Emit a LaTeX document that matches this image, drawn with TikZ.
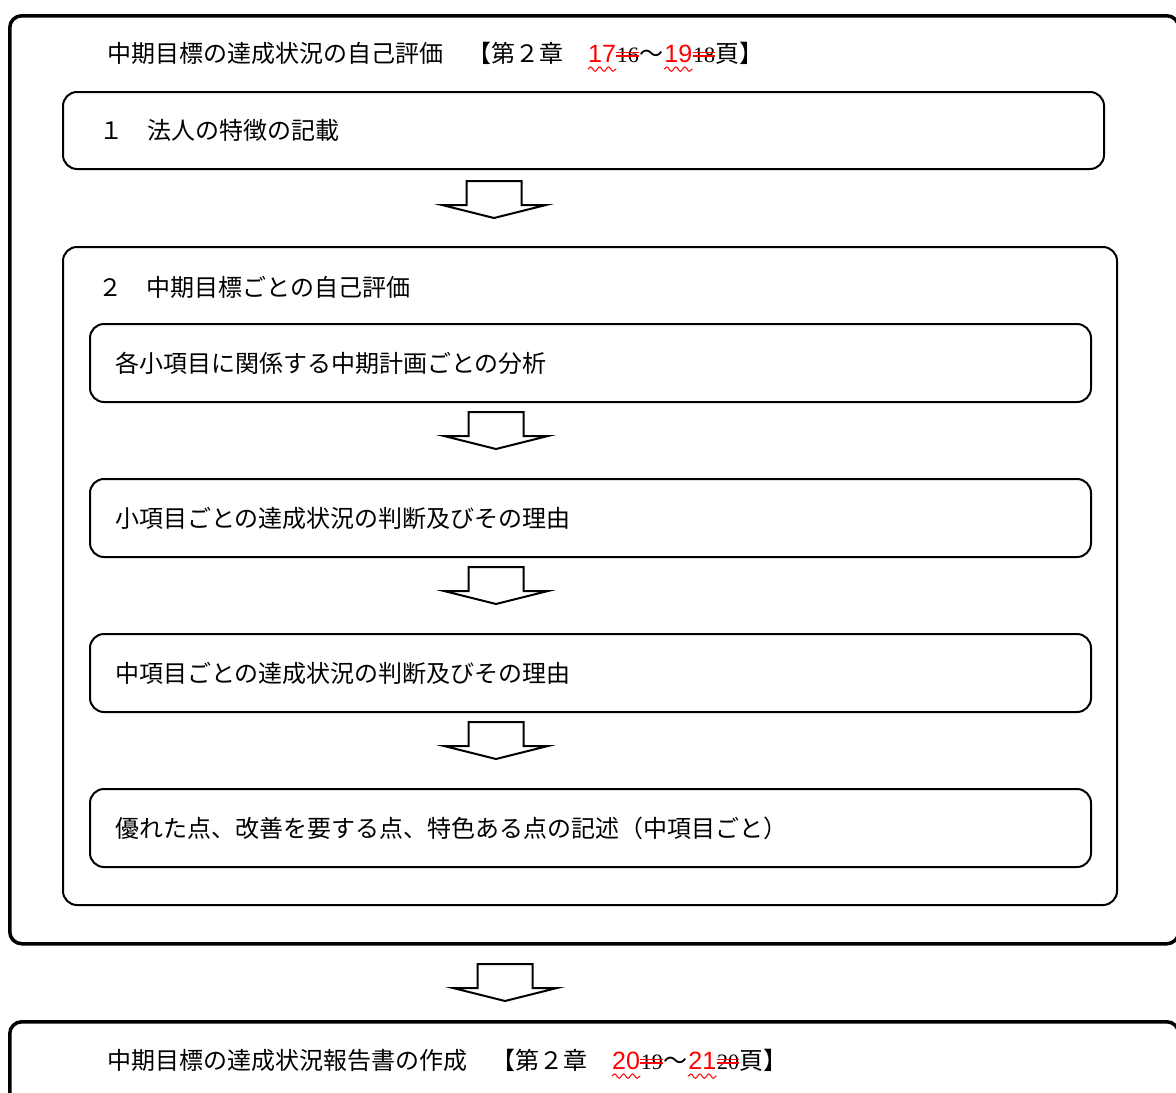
\documentclass[tikz,border=0pt]{standalone}
\usepackage{fontspec}
\usetikzlibrary{decorations.pathmorphing}
\setmainfont{Noto Sans CJK JP}
\newfontfamily\numfont{Liberation Sans}
\newfontfamily\oldfont{Liberation Serif}
\begin{document}
\begin{tikzpicture}[x=0.5pt,y=-0.5pt,
every node/.style={font=\fontsize{12pt}{14pt}\selectfont},
frame/.style={%
draw,
line width=1.75pt,
rounded corners=6pt,
anchor=north west
},
head/.style={%
anchor=west,
inner sep=0pt
},
part/.style={%
inner sep=0pt,
anchor=base west
},
newpage/.style={%
part,
text=red,
font=\fontsize{12.5pt}{14pt}\selectfont\numfont
},
oldpage/.style={%
part,
font=\fontsize{11pt}{12pt}\selectfont\oldfont
},
wave/.style={%
red,
line width=0.5pt,
decorate,
decoration={snake,amplitude=1.1pt,segment length=4.5pt}
},
strike/.style={%
red,
line width=0.9pt
},
bigbox/.style={%
draw,
line width=1pt,
rounded corners=7pt,
anchor=north west,
minimum width=#1,
align=left
},
item/.style={%
draw,
line width=1pt,
rounded corners=7pt,
anchor=north west,
minimum height=39pt,
text width=475.5pt,
inner xsep=12.5pt,
align=left
},
downarrow/.pic={%
\draw[line width=1pt,line join=miter]
(-27.5,-37) -- (27.5,-37) -- (27.5,-13) -- (52,-13) -- (0,0)
-- (-52,-13) -- (-27.5,-13) -- cycle;
}]
\useasboundingbox (0,0) rectangle (1176,1092);
\clip (0,0) rectangle (1176,1092);
% self evaluation frame
\node[frame,minimum width=584.5pt,minimum height=464pt] (eval) at (8,14) {};
\node[head] (evaltitle) at (107,53) {中期目標の達成状況の自己評価　【第２章　};
\node[newpage] (evalfrom) at (evaltitle.base east) {17};
\node[oldpage] (evalfromold) at (evalfrom.base east) {16};
\node[part] (evaltilde) at (evalfromold.base east) {～};
\node[newpage] (evalto) at (evaltilde.base east) {19};
\node[oldpage] (evaltoold) at (evalto.base east) {18};
\node[part] at (evaltoold.base east) {頁】};
\node[bigbox=520.5pt,minimum height=38.5pt,text width=484.5pt,inner xsep=18pt] (feature) at (62,91) {１　法人の特徴の記載};
\pic at (494,218) {downarrow};
\node[bigbox=527pt,minimum height=329pt] (goals) at (62,246) {};
\node[head] (goalstitle) at (98,287) {２　中期目標ごとの自己評価};
\foreach \t[count=\i from 0] in {各小項目に関係する中期計画ごとの分析,
小項目ごとの達成状況の判断及びその理由,
中項目ごとの達成状況の判断及びその理由,
優れた点、改善を要する点、特色ある点の記述（中項目ごと）}{%
\node[item] (step\i) at (89,323+155*\i) {\t};
}
\foreach \i in {0,1,2}{%
\pic at (496,449+155*\i) {downarrow};
}
\pic at (505,1001) {downarrow};
% report frame
\node[frame,minimum width=584.5pt,minimum height=60pt] (report) at (8,1020) {};
\node[head] (reporttitle) at (107,1060) {中期目標の達成状況報告書の作成　【第２章　};
\node[newpage] (reportfrom) at (reporttitle.base east) {20};
\node[oldpage] (reportfromold) at (reportfrom.base east) {19};
\node[part] (reporttilde) at (reportfromold.base east) {～};
\node[newpage] (reportto) at (reporttilde.base east) {21};
\node[oldpage] (reporttoold) at (reportto.base east) {20};
\node[part] at (reporttoold.base east) {頁】};
% corrections
\foreach \n in {evalfrom,evalto,reportfrom,reportto}{%
\draw[wave] ([yshift=-3.5pt]\n.base west) -- ([yshift=-3.5pt]\n.base east);
}
\foreach \n in {evalfromold,evaltoold,reportfromold,reporttoold}{%
\draw[strike] ([yshift=3pt]\n.base west) -- ([yshift=3pt]\n.base east);
\draw[strike] ([yshift=4.8pt]\n.base west) -- ([yshift=4.8pt]\n.base east);
}
\end{tikzpicture}
\end{document}
